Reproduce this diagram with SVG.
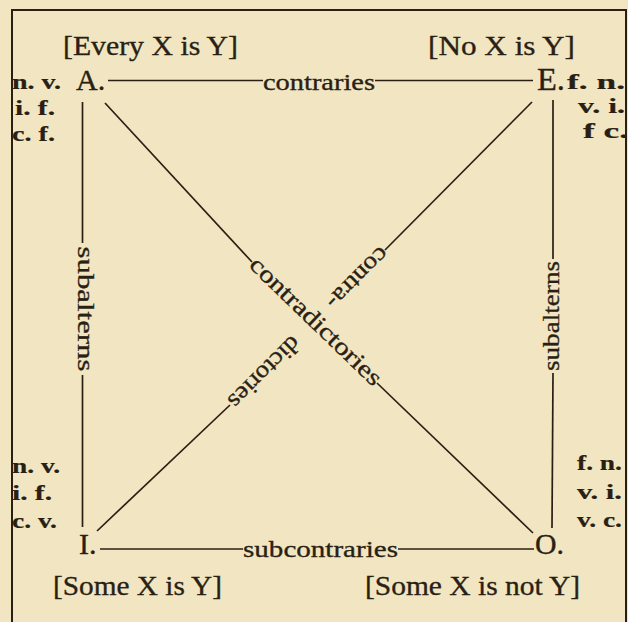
<svg xmlns="http://www.w3.org/2000/svg" width="628" height="622" viewBox="0 0 628 622">
<style>
.t{font-family:"Liberation Serif","Times New Roman",serif;fill:#2a1f14;stroke:#2a1f14;stroke-width:0.35}
.big{font-size:30px}
.br{font-size:27px}
.lb{font-size:24px}
.sm{font-size:21px;font-weight:bold;stroke-width:0.2}
.ln{stroke:#2a1f14;stroke-width:1.7;fill:none}
.fr{stroke:#2a1f14;stroke-width:2;fill:none}
</style>
<rect width="628" height="622" fill="#f2e6c2"/>
<g id="frame">
<path class="fr" d="M12,622 V10 H626 V622"/>
</g>
<g id="connectors">
<line class="ln" x1="108" y1="80.5" x2="263" y2="80.5"/>
<text class="t lb" x="263" y="90" textLength="112" lengthAdjust="spacingAndGlyphs">contraries</text>
<line class="ln" x1="375" y1="80.5" x2="533" y2="80.5"/>
<line class="ln" x1="100" y1="549" x2="243" y2="549"/>
<text class="t lb" x="243" y="557" textLength="155" lengthAdjust="spacingAndGlyphs">subcontraries</text>
<line class="ln" x1="398" y1="549" x2="534" y2="549"/>
<line class="ln" x1="82.5" y1="102" x2="82.5" y2="243"/>
<text class="t lb" transform="translate(77.5,309) rotate(90)" text-anchor="middle" textLength="125" lengthAdjust="spacingAndGlyphs">subalterns</text>
<line class="ln" x1="82.5" y1="375" x2="82.5" y2="527"/>
<line class="ln" x1="553" y1="100" x2="553" y2="259"/>
<text class="t lb" transform="translate(558.5,316) rotate(-90)" text-anchor="middle" textLength="110" lengthAdjust="spacingAndGlyphs">subalterns</text>
<line class="ln" x1="553" y1="373" x2="552" y2="528"/>
<line class="ln" x1="105" y1="103" x2="252" y2="262"/>
<text class="t lb" transform="translate(310.5,326.8) rotate(44)" text-anchor="middle" textLength="174" lengthAdjust="spacingAndGlyphs">contradictories</text>
<line class="ln" x1="377" y1="383" x2="533" y2="533"/>
<line class="ln" x1="532" y1="102" x2="385" y2="250"/>
<text class="t lb" transform="translate(352.3,272.8) rotate(135)" text-anchor="middle" textLength="78" lengthAdjust="spacingAndGlyphs">contra-</text>
<text class="t lb" transform="translate(259,367) rotate(135)" text-anchor="middle" textLength="92" lengthAdjust="spacingAndGlyphs">dictories</text>
<line class="ln" x1="230" y1="405" x2="97" y2="531"/>
</g>
<g id="node-A">
<text class="t br" x="63" y="55" textLength="175" lengthAdjust="spacingAndGlyphs">[Every X is Y]</text>
<text class="t big" x="76" y="90">A.</text>
<text class="t sm" x="12" y="89" textLength="49" lengthAdjust="spacingAndGlyphs">n. v.</text>
<text class="t sm" x="15" y="115" textLength="40" lengthAdjust="spacingAndGlyphs">i. f.</text>
<text class="t sm" x="12" y="141" textLength="43" lengthAdjust="spacingAndGlyphs">c. f.</text>
</g>
<g id="node-E">
<text class="t br" x="428" y="55" textLength="147" lengthAdjust="spacingAndGlyphs">[No X is Y]</text>
<text class="t big" x="537" y="90" textLength="28" lengthAdjust="spacingAndGlyphs" style="font-size:31px">E.</text>
<text class="t sm" x="567" y="89" textLength="58" lengthAdjust="spacingAndGlyphs">f. n.</text>
<text class="t sm" x="578" y="113" textLength="47" lengthAdjust="spacingAndGlyphs">v. i.</text>
<text class="t sm" x="583" y="138" textLength="45" lengthAdjust="spacingAndGlyphs">f c.</text>
</g>
<g id="node-I">
<text class="t big" x="79" y="554">I.</text>
<text class="t br" x="53" y="595" textLength="169" lengthAdjust="spacingAndGlyphs">[Some X is Y]</text>
<text class="t sm" x="12" y="473" textLength="48" lengthAdjust="spacingAndGlyphs">n. v.</text>
<text class="t sm" x="12" y="500" textLength="40" lengthAdjust="spacingAndGlyphs">i. f.</text>
<text class="t sm" x="12" y="528" textLength="45" lengthAdjust="spacingAndGlyphs">c. v.</text>
</g>
<g id="node-O">
<text class="t big" x="535" y="554" textLength="29" lengthAdjust="spacingAndGlyphs">O.</text>
<text class="t br" x="365" y="595" textLength="215" lengthAdjust="spacingAndGlyphs">[Some X is not Y]</text>
<text class="t sm" x="577" y="470" textLength="45" lengthAdjust="spacingAndGlyphs">f. n.</text>
<text class="t sm" x="577" y="499" textLength="45" lengthAdjust="spacingAndGlyphs">v. i.</text>
<text class="t sm" x="577" y="527" textLength="45" lengthAdjust="spacingAndGlyphs">v. c.</text>
</g>
</svg>
